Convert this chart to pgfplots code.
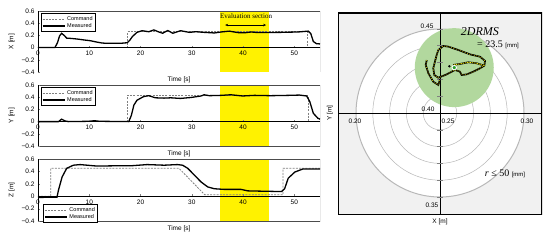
\documentclass[border=0pt]{standalone}
\usepackage{pgfplots}
\pgfplotsset{compat=1.18}
\usepackage{fontspec}
\setmainfont{Liberation Sans}
\newfontfamily\serif{Liberation Serif}
\usetikzlibrary{arrows.meta}
\definecolor{cmdgray}{gray}{0.5}
\definecolor{framegray}{gray}{0.3}
\definecolor{bggray}{gray}{0.945}
\definecolor{ringgray}{gray}{0.72}
\definecolor{dgreen}{RGB}{178,216,158}
\definecolor{dotgreen}{RGB}{40,160,40}
\pgfplotsset{
 tsplot/.style={
  scale only axis, width=282pt,
  xmin=0,xmax=55,ymin=-0.4,ymax=0.6,
  axis x line=middle, axis y line=left, axis line style={-,black,line width=0.5pt},
  axis on top,
  hide obscured x ticks=false, hide obscured y ticks=false,
  xtick={0,10,20,30,40,50}, xticklabels={0,10,20,30,40,50},
  ytick={-0.4,-0.2,0,0.2,0.4,0.6}, yticklabels={−0.4,−0.2,0,0.2,0.4,0.6},
  tick align=inside, major tick length=2pt,
  tick label style={font=\fontsize{6.5}{7}\selectfont},
  label style={font=\fontsize{6.5}{7}\selectfont},
  xlabel={Time [s]},
  xlabel style={at={(rel axis cs:0.5,0)},anchor=north,yshift=-1pt},
  legend cell align=left,
  legend image code/.code={\draw[#1] (0pt,0pt) -- (22pt,0pt);},
  legend style={font=\fontsize{5.5}{6}\selectfont, inner sep=0.8pt, row sep=-2.5pt, draw=black, line width=0.6pt},
 },
 cmd/.style={cmdgray, line width=0.8pt, dash pattern=on 2pt off 1.2pt},
 meas/.style={black, line width=1.3pt},
 trajb/.style={black,line width=1.7pt},
 trajy/.style={yellow,line width=0.5pt,dash pattern=on 0.9pt off 1.5pt},
}
\begin{document}
\begin{tikzpicture}
\useasboundingbox (0,0) rectangle (550pt,244pt);
% ---------- X panel
\begin{axis}[tsplot, at={(38pt,172pt)}, anchor=south west, height=61pt, ylabel={X [m]},
  legend style={at={(rel axis cs:0.01,0.965)}, anchor=north west}]
\fill[yellow] (axis cs:35.5,-0.4) rectangle (axis cs:45,0.6);
\addplot[cmd] coordinates {(0,0)(17.5,0)(17.5,0.26)(52.6,0.26)(52.6,0)(55,0)};
\addlegendentry{Command}
\addplot[meas] coordinates {(0,0)(3.3,0)(3.8,0.08)(4.2,0.19)(4.6,0.234)(5.1,0.2)(5.6,0.155)(6.5,0.15)(7.6,0.141)(9,0.125)(10.2,0.113)(11.5,0.09)(12.5,0.075)(13.5,0.07)(15,0.072)(16.1,0.07)(17.4,0.08)(17.9,0.12)(18.4,0.18)(19.3,0.25)(20.3,0.277)(21.6,0.26)(22.6,0.29)(23.6,0.255)(24.3,0.235)(25.3,0.28)(26.3,0.235)(27.8,0.277)(29.5,0.25)(30.8,0.26)(32.4,0.25)(34.4,0.24)(35.7,0.256)(37.3,0.27)(39,0.246)(40.3,0.243)(41.6,0.256)(42.9,0.246)(44.8,0.248)(47.5,0.25)(50.7,0.256)(52.7,0.27)(53.2,0.23)(53.7,0.1)(54.3,0.065)(55,0.06)};
\addlegendentry{Measured}
\node[font=\serif\fontsize{7}{8}\selectfont] at (axis cs:40.6,0.52) {Evaluation section};
\draw[<->,>={Stealth[length=3pt,width=2.5pt]},line width=0.6pt] (axis cs:36.5,0.37) -- (axis cs:44.5,0.37);
\draw[framegray,line width=0.8pt] (rel axis cs:0,0) rectangle (rel axis cs:1,1);
\end{axis}
% ---------- Y panel
\begin{axis}[tsplot, at={(38pt,98pt)}, anchor=south west, height=61pt, ylabel={Y [m]},
  legend style={at={(rel axis cs:0.01,0.965)}, anchor=north west}]
\fill[yellow] (axis cs:35.5,-0.4) rectangle (axis cs:45,0.6);
\addplot[cmd] coordinates {(0,0)(17.5,0)(17.5,0.43)(52.7,0.43)(52.7,0)(55,0)};
\addlegendentry{Command}
\addplot[meas] coordinates {(0,0)(4,0)(4.6,0.04)(5.3,0.01)(6,0)(10,0.005)(11,0.015)(12,0.005)(17.7,0)(18.2,0.1)(18.7,0.27)(19.3,0.35)(20.6,0.41)(21.6,0.425)(22.9,0.39)(24.6,0.385)(25.9,0.39)(27.8,0.38)(29.8,0.395)(31.8,0.42)(32.4,0.44)(33.4,0.425)(35.7,0.43)(37.6,0.44)(39.9,0.42)(42.2,0.43)(45.4,0.425)(48.8,0.43)(51,0.435)(52.4,0.42)(53,0.33)(53.7,0.136)(54.6,0.054)(55,0.04)};
\addlegendentry{Measured}
\draw[framegray,line width=0.8pt] (rel axis cs:0,0) rectangle (rel axis cs:1,1);
\end{axis}
% ---------- Z panel
\begin{axis}[tsplot, at={(38pt,23pt)}, anchor=south west, height=62pt, ylabel={Z [m]},
  legend style={at={(rel axis cs:0.018,-0.03)}, anchor=south west}]
\fill[yellow] (axis cs:35.5,-0.4) rectangle (axis cs:45,0.6);
\addplot[cmd] coordinates {(0,0)(2.5,0)(2.5,0.45)(27.5,0.45)(32.5,0.025)(47.8,0.025)(47.8,0.45)(55,0.45)};
\addlegendentry{Command}
\addplot[meas] coordinates {(0,-0.02)(3.7,-0.015)(4,0.1)(4.7,0.31)(5.6,0.45)(6.9,0.5)(8.2,0.51)(11.5,0.486)(14.8,0.49)(18,0.49)(21.3,0.51)(24.6,0.5)(27.2,0.51)(28.2,0.5)(29.2,0.45)(30.5,0.34)(31.8,0.23)(33.1,0.15)(34.4,0.12)(36.3,0.11)(39.6,0.11)(40.9,0.086)(44.2,0.08)(47.5,0.075)(48.1,0.12)(48.8,0.29)(50.1,0.39)(51.7,0.44)(55,0.44)};
\addlegendentry{Measured}
\draw[framegray,line width=0.8pt] (rel axis cs:0,0) rectangle (rel axis cs:1,1);
\end{axis}
% ---------- polar panel
\begin{axis}[at={(338pt,29pt)}, anchor=south west, scale only axis, width=204pt, height=202pt,
  xmin=0.18929, xmax=0.31071, ymin=0.33929, ymax=0.45952, axis lines=none]
\fill[bggray] (rel axis cs:0,0) rectangle (rel axis cs:1,1);
\fill[white] (axis cs:0.25,0.40) circle[radius=0.05];
\pgfplotsinvokeforeach{0.01,0.02,0.03,0.04}{\draw[ringgray,line width=0.5pt] (axis cs:0.25,0.40) circle[radius=#1];}
\draw[ringgray,line width=1pt] (axis cs:0.25,0.40) circle[radius=0.05];
\fill[dgreen] (axis cs:0.2585,0.427) circle[radius=0.0235];
\draw[black,line width=0.8pt] (axis cs:0.25,0.33929) -- (axis cs:0.25,0.45952);
\draw[black,line width=0.8pt] (axis cs:0.18929,0.40) -- (axis cs:0.31071,0.40);
\pgfplotsinvokeforeach{0.35,0.36,0.37,0.38,0.39,0.41,0.42,0.43,0.44,0.45}{\draw[gray,line width=0.6pt] (axis cs:0.2485,#1) -- (axis cs:0.2515,#1);}
\addplot[trajb] coordinates {(0.2490,0.4375)(0.2520,0.4399)(0.2550,0.4395)(0.2609,0.4375)(0.2679,0.4349)(0.2738,0.4335)(0.2768,0.4310)(0.2764,0.4282)(0.2738,0.4266)(0.2698,0.4246)(0.2659,0.4230)(0.2629,0.4226)(0.2619,0.4246)(0.2589,0.4256)(0.2540,0.4230)(0.2490,0.4210)(0.2466,0.4226)(0.2460,0.4266)(0.2470,0.4306)(0.2480,0.4345)(0.2490,0.4375)};
\addplot[trajy] coordinates {(0.2490,0.4375)(0.2520,0.4399)(0.2550,0.4395)(0.2609,0.4375)(0.2679,0.4349)(0.2738,0.4335)(0.2768,0.4310)(0.2764,0.4282)(0.2738,0.4266)(0.2698,0.4246)(0.2659,0.4230)(0.2629,0.4226)(0.2619,0.4246)(0.2589,0.4256)(0.2540,0.4230)(0.2490,0.4210)(0.2466,0.4226)(0.2460,0.4266)(0.2470,0.4306)(0.2480,0.4345)(0.2490,0.4375)};
\addplot[trajb] coordinates {(0.2764,0.4282)(0.2718,0.4296)(0.2669,0.4302)(0.2619,0.4292)(0.2579,0.4286)};
\addplot[yellow,line width=0.7pt,dash pattern=on 1.5pt off 0.8pt] coordinates {(0.2764,0.4282)(0.2718,0.4296)(0.2669,0.4302)(0.2619,0.4292)(0.2579,0.4286)};
\addplot[trajb] coordinates {(0.2421,0.4315)(0.2415,0.4286)(0.2431,0.4236)(0.2460,0.4186)(0.2490,0.4167)(0.2500,0.4200)};
\addplot[trajy] coordinates {(0.2421,0.4315)(0.2415,0.4286)(0.2431,0.4236)(0.2460,0.4186)(0.2490,0.4167)(0.2500,0.4200)};
\addplot[only marks,mark=*,mark size=1pt,black] coordinates {(0.2556,0.4278)};
\addplot[only marks,mark=*,mark size=2.2pt,draw=white,fill=dotgreen,line width=0.9pt] coordinates {(0.2585,0.427)};
\draw[black,line width=1.1pt] (rel axis cs:0,0) rectangle (rel axis cs:1,1);
\begin{scope}[font=\fontsize{6.5}{7}\selectfont]
\node at (axis cs:0.2423,0.4518) {0.45};
\node at (axis cs:0.2429,0.4024) {0.40};
\node at (axis cs:0.2548,0.3952) {0.25};
\node at (axis cs:0.1994,0.3952) {0.20};
\node at (axis cs:0.3018,0.3952) {0.30};
\node at (axis cs:0.2452,0.3452) {0.35};
\end{scope}
\node[font=\serif\itshape\fontsize{12}{13}\selectfont] at (axis cs:0.2738,0.4482) {2DRMS};
\node at (axis cs:0.2845,0.4405) {\serif\fontsize{10}{11}\selectfont = 23.5 \rmfamily\fontsize{6}{7}\selectfont [mm]};
\node at (axis cs:0.2887,0.3637) {\serif\fontsize{10}{11}\selectfont\itshape r \upshape≤ 50 \rmfamily\fontsize{6}{7}\selectfont [mm]};
\end{axis}
\node[font=\fontsize{6.5}{7}\selectfont] at (440pt,22pt) {X [m]};
\node[font=\fontsize{6.5}{7}\selectfont,rotate=90] at (330pt,131pt) {Y [m]};
\end{tikzpicture}
\end{document}
